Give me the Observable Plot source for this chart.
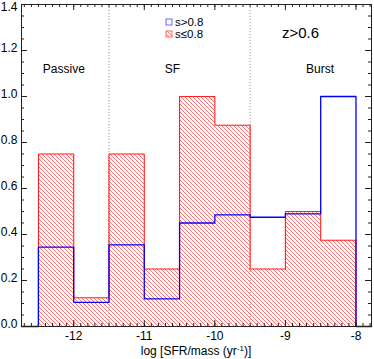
<!DOCTYPE html>
<html><head><meta charset="utf-8">
<script src="https://cdn.jsdelivr.net/npm/d3@7"></script>
<script src="https://cdn.jsdelivr.net/npm/@observablehq/plot@0.6"></script>
<style>
body{margin:0;background:#fff}
#chart svg{font-family:"Liberation Sans",Arial,Helvetica,sans-serif;display:block}
</style>
</head><body><div id="chart"></div>
<script>
// ---- data ----
const binEdges = [-12.5, -12, -11.5, -11, -10.5, -10, -9.5, -9, -8.5, -8];
const redValues = [0.75, 0.125, 0.75, 0.25, 1.0, 0.875, 0.25, 0.5, 0.375];   // s<=0.8
const blueValues = [0.345, 0.105, 0.355, 0.12, 0.45, 0.485, 0.475, 0.49, 1.0]; // s>0.8
const xTicks = [-12, -11, -10, -9, -8];
const yTicks = [0, 0.2, 0.4, 0.6, 0.8, 1.0, 1.2, 1.4];
const regionDividers = [-11.5, -9.5];
const regionNames = ["Passive", "SF", "Burst"];
const regionNameX = [-12.14, -10.6, -8.51];
const regionNameY = 1.12;
const sampleText = "z>0.6";
const sampleX = -9.05, sampleY = 1.275;
const legendLabels = ["s>0.8", "s\u22640.8"];
const xLabelMain = "log [SFR/mass (yr", xLabelSup = "-1", xLabelEnd = ")]";
const xDomain = [-12.74, -7.78];
const yDomain = [0, 1.4];

// ---- derived ----
const W = 374, H = 359, mL = 21, mR = 3, mT = 4, mB = 33;
const fw = W - mL - mR, fh = H - mT - mB;
const bins = redValues.map((v, i) => ({x1: binEdges[i], x2: binEdges[i + 1], red: v, blue: blueValues[i]}));
const last = bins[bins.length - 1];
const redStep = [{x: bins[0].x1, y: 0}, ...bins.map(b => ({x: b.x1, y: b.red})), {x: last.x2, y: last.red}, {x: last.x2, y: 0}];
const blueStep = [{x: xDomain[0], y: 0}, {x: bins[0].x1, y: 0}, ...bins.map(b => ({x: b.x1, y: b.blue})), {x: last.x2, y: last.blue}, {x: last.x2, y: 0}, {x: xDomain[1], y: 0}];
const xMinor = d3.range(Math.ceil(xDomain[0] * 10), Math.floor(xDomain[1] * 10) + 1).map(i => i / 10);
const yMinor = d3.range(0, 29).map(i => i * 0.05);
const regions = regionNames.map((t, i) => ({text: t, x: regionNameX[i], y: regionNameY}));
const yTicksLow = yTicks.filter(v => v < yDomain[1]);
const yTicksTop = yTicks.filter(v => v >= yDomain[1]);
const axisColor = "#222";
const font = "'Liberation Sans', Arial, sans-serif";

const chart = Plot.plot({
  width: W, height: H,
  marginLeft: mL, marginRight: mR, marginTop: mT, marginBottom: mB,
  style: {fontSize: "12px", fontFamily: font, color: "#000", background: "#fff"},
  x: {domain: xDomain, axis: null},
  y: {domain: yDomain, axis: null},
  marks: [
    Plot.ruleX(regionDividers, {x: d => d, stroke: "#999", strokeDasharray: "1.2,1.8", strokeWidth: 1}),
    Plot.rectY(bins, {x1: "x1", x2: "x2", y1: 0, y2: "red", fill: "url(#hatchRed)"}),
    Plot.line(redStep, {x: "x", y: "y", curve: "step-after", stroke: "#ff2020", strokeWidth: 1.1}),
    Plot.line(blueStep, {x: "x", y: "y", curve: "step-after", stroke: "#0000ff", strokeWidth: 1.3}),
    // ticks, inward, on all four sides
    Plot.tickX(xTicks, {x: d => d, insetTop: fh - 6, stroke: axisColor}),
    Plot.tickX(xMinor, {x: d => d, insetTop: fh - 3, stroke: axisColor}),
    Plot.tickX(xTicks, {x: d => d, insetBottom: fh - 6, stroke: axisColor}),
    Plot.tickX(xMinor, {x: d => d, insetBottom: fh - 3, stroke: axisColor}),
    Plot.tickY(yTicks, {y: d => d, insetRight: fw - 6, stroke: axisColor}),
    Plot.tickY(yMinor, {y: d => d, insetRight: fw - 3, stroke: axisColor}),
    Plot.tickY(yTicks, {y: d => d, insetLeft: fw - 6, stroke: axisColor}),
    Plot.tickY(yMinor, {y: d => d, insetLeft: fw - 3, stroke: axisColor}),
    Plot.axisX(xTicks, {tickSize: 0, tickPadding: 5, tickFormat: d => String(d), label: null, fontSize: 12}),
    Plot.axisY(yTicksLow, {tickSize: 0, tickPadding: 4, tickFormat: d => d.toFixed(1), label: null, fontSize: 12, dy: -2}),
    Plot.axisY(yTicksTop, {tickSize: 0, tickPadding: 4, tickFormat: d => d.toFixed(1), label: null, fontSize: 12, dy: 3}),
    Plot.text(regions, {x: "x", y: "y", text: "text", fontSize: 12, fill: "#000"}),
    Plot.text([sampleText], {x: () => sampleX, y: () => sampleY, text: d => d, textAnchor: "start", fontSize: 15, fill: "#000"}),
    Plot.frame({stroke: axisColor, strokeWidth: 1})
  ]
});

const svg = d3.select(chart);
const defs = svg.insert("defs", ":first-child");
defs.append("pattern")
  .attr("id", "hatchRed").attr("patternUnits", "userSpaceOnUse")
  .attr("width", 4).attr("height", 4)
  .append("path").attr("d", "M-1,-1L5,5M-1,3L1,5M3,-1L5,1")
  .attr("stroke", "#ff5050").attr("stroke-width", 0.8).attr("fill", "none");

// legend
const lx = 166, ly = [22, 34];
const lg = svg.append("g").attr("font-size", 11.5).attr("font-family", font).attr("text-anchor", "start");
lg.append("rect").attr("x", lx).attr("y", ly[0] - 3).attr("width", 6).attr("height", 6)
  .attr("fill", "none").attr("stroke", "#6666ff").attr("stroke-width", 1);
lg.append("rect").attr("x", lx).attr("y", ly[1] - 3).attr("width", 6).attr("height", 6)
  .attr("fill", "url(#hatchRed)").attr("stroke", "#ff6666").attr("stroke-width", 1);
legendLabels.forEach((t, i) => {
  lg.append("text").attr("x", lx + 9).attr("y", ly[i]).attr("dy", "0.35em").attr("text-anchor", "start").text(t);
});

// x axis title with superscript
const xs = chart.scale("x");
const cx = (xs.apply(xDomain[0]) + xs.apply(xDomain[1])) / 2;
const t = svg.append("text").attr("x", cx).attr("y", H - 4).attr("text-anchor", "middle")
  .attr("font-size", 12).attr("font-family", font);
t.append("tspan").text(xLabelMain);
t.append("tspan").attr("dy", -4).attr("font-size", 8).text(xLabelSup);
t.append("tspan").attr("dy", 4).text(xLabelEnd);

document.getElementById("chart").appendChild(chart);
</script>
</body></html>
